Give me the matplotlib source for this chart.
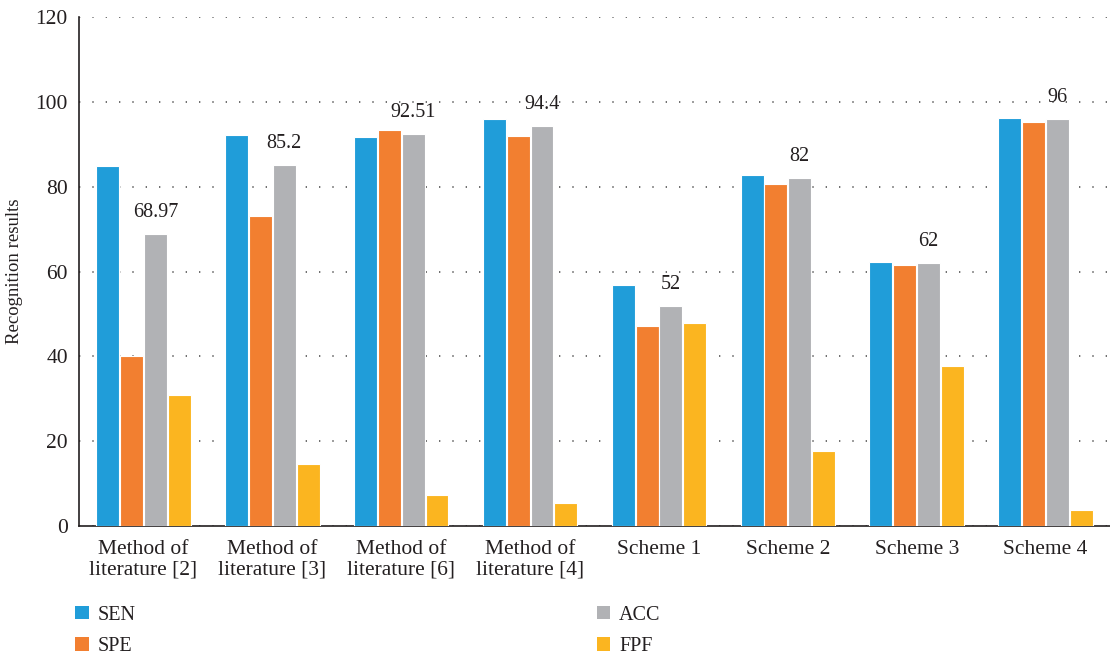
import numpy as np
import matplotlib.pyplot as plt
from matplotlib.patches import Patch

plt.rcParams['font.family'] = ['Liberation Serif', 'DejaVu Serif']

categories = ["Method of\nliterature [2]", "Method of\nliterature [3]", "Method of\nliterature [6]",
              "Method of\nliterature [4]", "Scheme 1", "Scheme 2", "Scheme 3", "Scheme 4"]
sen = [85.0, 92.2, 91.7, 96.0, 56.8, 82.9, 62.2, 96.2]
spe = [40.0, 73.1, 93.4, 92.0, 47.2, 80.6, 61.5, 95.4]
acc = [68.97, 85.2, 92.51, 94.4, 52.0, 82.0, 62.0, 96.0]
fpf = [30.9, 14.6, 7.3, 5.4, 47.9, 17.8, 37.8, 3.7]
acc_labels = ["68.97", "85.2", "92.51", "94.4", "52", "82", "62", "96"]

series = [("SEN", sen, "#209dd9"), ("SPE", spe, "#f27f30"),
          ("ACC", acc, "#b1b2b5"), ("FPF", fpf, "#fbb520")]

fig = plt.figure(figsize=(11.1, 6.54), dpi=100)
ax = fig.add_axes([0.0712, 0.1957, 0.9288, 0.778])

x = np.arange(len(categories))
w = 0.178
step = 0.185
for i, (name, vals, col) in enumerate(series):
    ax.bar(x + (i - 1.5) * step, vals, w, color=col, edgecolor="white", linewidth=0.8, zorder=3)

# value labels over ACC bars
for xi, v, t in zip(x, acc, acc_labels):
    ax.text(xi + 0.5 * step, v + 2.8, t, ha="center", va="bottom", fontsize=14.5, color="#231f20")

ax.set_xlim(-0.5, 7.5)
ax.set_ylim(0, 120)
ax.set_yticks(range(0, 121, 20))
ax.set_xticks(x)
ax.set_xticklabels(categories, fontsize=15.5, color="#231f20", linespacing=1.1)
ax.tick_params(axis="y", length=0, labelsize=15.5, labelcolor="#231f20", pad=8)
ax.tick_params(axis="x", length=0, pad=10)
ax.set_ylabel("Recognition results", fontsize=13.5, color="#231f20", labelpad=9)

ax.yaxis.grid(True, linestyle=(0, (0.8, 7.2)), color="#555555", linewidth=1.2, zorder=0)
ax.set_axisbelow(True)
for s in ["top", "right"]:
    ax.spines[s].set_visible(False)
ax.spines["left"].set_color("#231f20")
ax.spines["bottom"].set_color("#231f20")
ax.spines["left"].set_linewidth(1.2)
ax.spines["bottom"].set_linewidth(1.2)

handles = [Patch(facecolor=c, edgecolor="none", label=n) for n, _, c in series]
fig.legend(handles=handles, ncol=2, loc="upper left", bbox_to_anchor=(0.068, 0.074),
           frameon=False, fontsize=14.5, handlelength=0.65, handleheight=0.65,
           handletextpad=0.45, columnspacing=22.9, labelspacing=0.62,
           borderpad=0, borderaxespad=0, labelcolor="#231f20")

fig.savefig("out.png", dpi=100)
